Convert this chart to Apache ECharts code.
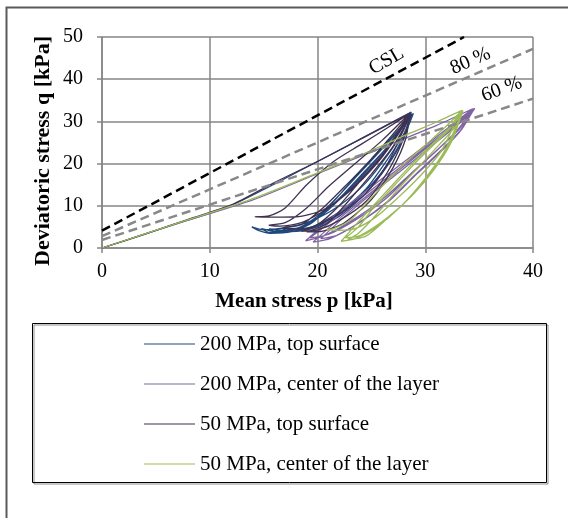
<!DOCTYPE html>
<html>
<head>
<meta charset="utf-8">
<script src="https://cdn.jsdelivr.net/npm/echarts@6/dist/echarts.min.js"></script>
<style>
  html, body { margin: 0; padding: 0; background: #fff; }
</style>
</head>
<body>
<div id="main" style="width: 568px; height: 518px;"></div>
<script type="text/javascript">
// axis ticks
var xTicks = [0, 10, 20, 30, 40];
var yTicks = [0, 10, 20, 30, 40, 50];

var seriesNames = ['200 MPa, top surface', '200 MPa, center of the layer', '50 MPa, top surface', '50 MPa, center of the layer'];

// stress paths [p, q]
var top200 = [
  [0, 0], [6, 5], [12, 10.1], [20, 20.5], [28.7, 32.2],
  [28, 28], [26.5, 22], [24.5, 15.5], [22, 10], [19.5, 6.5], [17, 4.8], [15, 4.3], [13.9, 5.0],
  [14.5, 4.2], [15.6, 3.5], [17.5, 3.8], [19.5, 6], [21.5, 11], [23.5, 17], [25.5, 22.5], [27.5, 28], [28.8, 31.8],
  [28, 27], [26.5, 21], [24.5, 14], [22, 8.5], [19.5, 5], [17, 3.8], [15.5, 3.7], [14.8, 4.6],
  [16, 4], [18, 4.5], [20, 7.5], [22, 12.5], [24, 18], [26, 23.5], [28, 29], [28.9, 31.9],
  [28.2, 27.5], [26.8, 21], [25, 15], [22.5, 9], [20, 5.2], [18, 4], [16.2, 3.8], [15.5, 4.5],
  [17, 4.2], [19, 5.5], [21, 9], [23, 14], [25, 19.5], [27, 25.5], [28.8, 31.7],
  [28, 26], [26.5, 19.5], [24.5, 13], [22, 7.5], [19.5, 4.6], [17.5, 3.9], [16.8, 4.5],
  [18.5, 4.8], [20.5, 8], [22.5, 13], [24.5, 18.5], [26.5, 24], [28.7, 31.5]
];
var center200 = [
  [0, 0], [7, 5.8], [14, 11.4], [20, 17.6], [26, 23.8], [31, 29], [34.4, 33.0],
  [33, 30.2], [30, 24.3], [27, 18.4], [24, 12.5], [21.5, 7.5], [18.9, 1.7],
  [20.5, 2.8], [23, 6.2], [26, 11.5], [28.6, 17.5], [31, 23], [33, 28], [34.5, 33],
  [33.1, 30], [30.2, 24.2], [27.2, 18.2], [24.3, 12.4], [21.8, 7.4], [19.3, 2.4],
  [21, 3.2], [23.5, 6.6], [26.3, 11.6], [28.8, 17.8], [31.2, 23.4], [33.2, 28.3], [34.6, 33.1],
  [33.2, 30], [30.3, 24.1], [27.4, 18.1], [24.5, 12.2], [22, 6.9], [19.6, 1.4],
  [21.2, 2.3], [23.8, 5.9], [26.5, 11], [29, 17.2], [31.4, 23], [33.3, 28], [34.5, 32.8],
  [33.3, 29.8], [30.5, 24], [27.6, 18], [24.8, 12.4], [22.4, 7.2], [20.3, 2.2],
  [21.8, 3], [24.2, 6.5], [26.8, 11.5], [29.2, 17.5], [31.6, 23.2], [33.4, 28.2], [34.4, 32.6]
];
var top50 = [
  [0, 0], [4, 3.3], [8, 6.8], [12, 10.2], [16, 15.5], [20, 20.5], [24, 25.8], [28.6, 32.0],
  [27.5, 27], [25.5, 20], [23, 13.5], [20.5, 9], [18, 7.4], [16, 7.3], [14.2, 7.4],
  [15.5, 7.6], [17, 9.5], [19, 15], [21.5, 20.5], [24, 24.5], [26.5, 28.5], [28.5, 31.8],
  [27.8, 28.5], [26, 22], [23.5, 15], [21, 9.5], [18.5, 6], [16.5, 5.2], [15.5, 5.4],
  [17, 6], [19, 9.5], [21, 14.5], [23.5, 20], [26, 25.5], [28.4, 31.5],
  [27.8, 27], [26.5, 20], [24.5, 13], [22, 8], [19.5, 5], [17.5, 4.5], [16.8, 4.8],
  [18.5, 5.5], [20.5, 9.5], [22.5, 14.5], [25, 21], [27, 27], [28.6, 31.8],
  [28, 26], [26.5, 18], [24.5, 11], [22, 6.5], [20, 4.3], [18.5, 4],
  [20, 5.5], [22, 10], [24, 16], [26, 22], [28.5, 31.5],
  [28.2, 26], [27, 19], [25, 11.5], [22.5, 6], [20.5, 4], [19, 3.8],
  [21, 6], [23, 11.5], [25, 17.5], [27, 24], [28.7, 31.8]
];
var center50 = [
  [0, 0], [7, 5.9], [13.7, 11.4], [20, 17.8], [24, 22], [28.6, 27.2], [31, 29.8], [33.4, 32.6],
  [32.2, 29.5], [30.5, 25.5], [28.5, 21], [26.5, 16], [24.5, 10.5], [23, 6.5], [21.5, 4.6], [20.8, 4.3],
  [22, 4.2], [23.5, 4.6], [25.5, 7.5], [27.5, 12], [29.5, 17], [31.5, 23], [33.2, 32.3],
  [32.4, 29], [30.8, 25], [28.8, 20], [26.8, 14.5], [24.8, 9], [23.2, 4.5], [22.2, 1.6],
  [23.5, 2.2], [25.5, 5], [27.8, 10], [30, 16.5], [31.8, 23], [33.5, 32.6],
  [32.6, 29.2], [31, 25], [29.2, 20.5], [27.2, 15], [25.2, 9.5], [23.8, 5], [22.6, 2.4],
  [24, 3], [26.5, 7.2], [28.8, 12.5], [30.5, 18], [32.2, 24.5], [33.4, 32.4],
  [32.8, 28.8], [31.3, 24.5], [29.5, 19.5], [27.5, 14], [25.5, 8], [23.8, 3.5], [22.8, 2],
  [24.5, 2.8], [26.7, 7.5], [29, 13], [30.8, 18.5], [32.4, 25], [33.5, 32.6]
];

// reference lines
var cslLine = [[0, 4.1], [33.6, 50]];
var line80 = [[0, 2.8], [40, 47.2]];
var line60 = [[0, 1.9], [40, 35.4]];
var refLabels = ['CSL', '80 %', '60 %'];
var refLabelPos = [[26.4, 44.3], [34.2, 44.3], [37.1, 37.6]];

var colors = ['#1F497D', '#8064A2', '#403152', '#9BBB59'];
var serif = '"Liberation Serif", "Times New Roman", serif';

var myChart = echarts.init(document.getElementById('main'));

function pathSeries(name, data, color) {
    return {
        name: name,
        type: 'line',
        data: data,
        symbol: 'none',
        smooth: 0.25,
        lineStyle: { color: color, width: 1.3 },
        itemStyle: { color: color }
    };
}

function refSeries(data, color, label, pos, rot) {
    return {
        type: 'line',
        data: data,
        symbol: 'none',
        lineStyle: { color: color, width: 2.5, type: [9, 5] },
        markPoint: {
            symbol: 'circle',
            symbolSize: 0,
            data: [{ coord: pos }],
            label: {
                show: true, formatter: label, position: 'inside', rotate: rot,
                fontFamily: serif, fontSize: 20, color: '#000'
            }
        },
        silent: true
    };
}

var option = {
    animation: false,
    backgroundColor: '#fff',
    grid: { left: 102, right: 35, top: 37, bottom: 270 },
    xAxis: {
        type: 'value', min: xTicks[0], max: xTicks[xTicks.length - 1], interval: 10,
        axisLine: { show: true, lineStyle: { color: '#868686', width: 1.5 } },
        axisTick: { show: true, length: 5, lineStyle: { color: '#868686', width: 1.5 } },
        splitLine: { show: true, lineStyle: { color: '#868686', width: 1.5 } },
        axisLabel: { fontFamily: serif, fontSize: 20, color: '#000', margin: 14 }
    },
    yAxis: {
        type: 'value', min: yTicks[0], max: yTicks[yTicks.length - 1], interval: 10,
        axisLine: { show: true, lineStyle: { color: '#868686', width: 1.5 } },
        axisTick: { show: true, length: 5, lineStyle: { color: '#868686', width: 1.5 } },
        splitLine: { show: true, lineStyle: { color: '#868686', width: 1.5 } },
        axisLabel: { fontFamily: serif, fontSize: 20, color: '#000', margin: 19 }
    },
    legend: {
        orient: 'vertical',
        left: 144, top: 333,
        padding: 0,
        itemGap: 18,
        itemWidth: 51, itemHeight: 1,
        icon: 'rect',
        data: seriesNames,
        textStyle: { fontFamily: serif, fontSize: 21, color: '#000', lineHeight: 22 }
    },
    graphic: [
        { type: 'rect', shape: { x: 6.5, y: 7.5, width: 700, height: 700 },
          style: { fill: 'none', stroke: '#5a5a5a', lineWidth: 2 }, silent: true },
        { type: 'rect', shape: { x: 32.5, y: 323.5, width: 514, height: 159 },
          style: { fill: 'none', stroke: '#000', lineWidth: 1, shadowColor: 'rgba(0,0,0,0.45)', shadowOffsetX: 1.5, shadowOffsetY: 1.5 }, silent: true },
        { type: 'text', x: 304, y: 302,
          style: { text: 'Mean stress p [kPa]', font: 'bold 21px ' + serif, fill: '#000', align: 'center', verticalAlign: 'middle' } },
        { type: 'text', x: 43, y: 151, rotation: Math.PI / 2,
          style: { text: 'Deviatoric stress q [kPa]', font: 'bold 22px ' + serif, fill: '#000', align: 'center', verticalAlign: 'middle' } }
    ],
    series: [
        pathSeries(seriesNames[0], top200, colors[0]),
        pathSeries(seriesNames[1], center200, colors[1]),
        pathSeries(seriesNames[2], top50, colors[2]),
        pathSeries(seriesNames[3], center50, colors[3]),
        refSeries(cslLine, '#000', refLabels[0], refLabelPos[0], 30),
        refSeries(line80, '#888888', refLabels[1], refLabelPos[1], 24),
        refSeries(line60, '#888888', refLabels[2], refLabelPos[2], 20)
    ]
};

myChart.setOption(option);
</script>
</body>
</html>
